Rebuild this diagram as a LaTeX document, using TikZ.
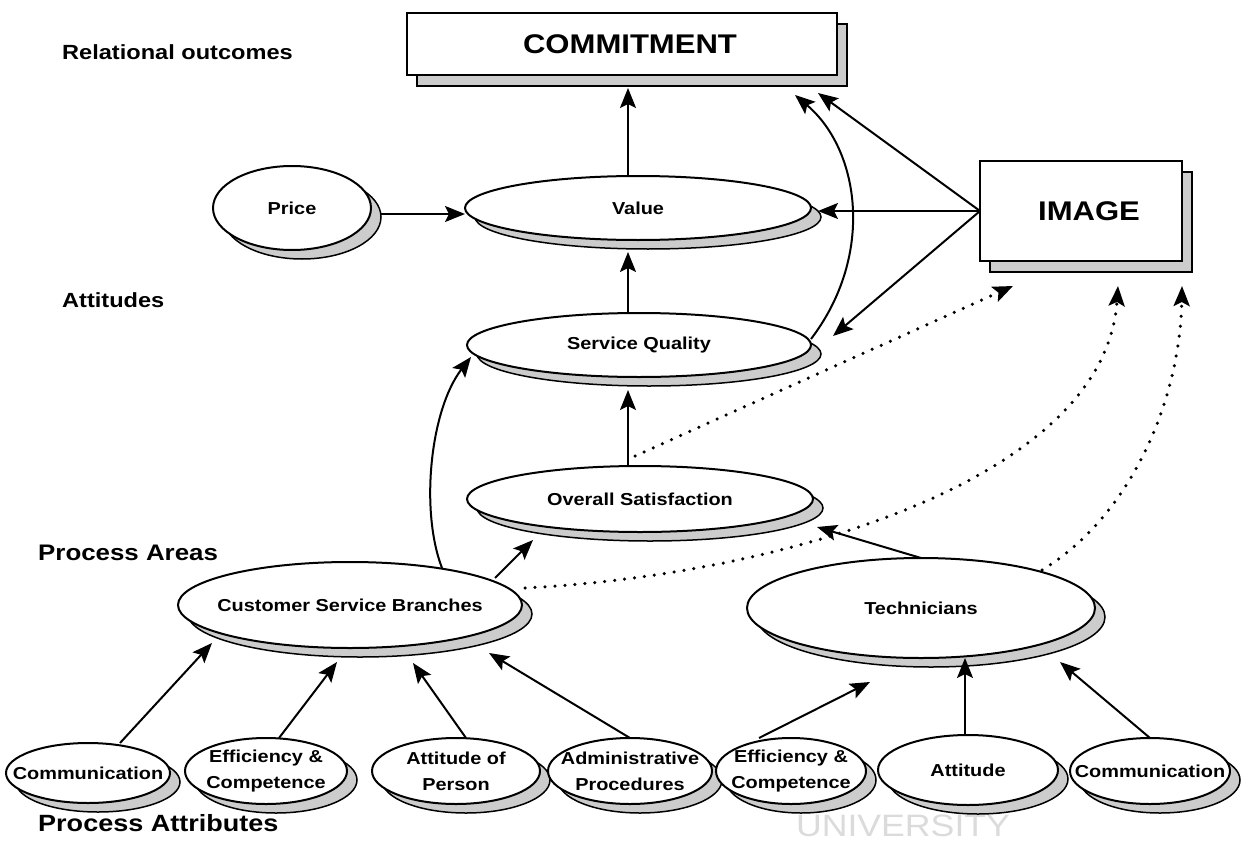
\documentclass[tikz,border=0pt]{standalone}
\usepackage{fontspec}
\setmainfont{Liberation Sans}[FakeStretch=1.15]
\setsansfont{Liberation Sans}[FakeStretch=1.15]
\usetikzlibrary{shapes.geometric,shadows,arrows.meta}
\begin{document}
\begin{tikzpicture}[x=1pt,y=1pt,
  ell/.style={ellipse, draw=black, line width=2pt, fill=white, inner sep=0pt, outer sep=0pt,
    drop shadow={shadow xshift=10pt, shadow yshift=-9pt, fill=gray!40, draw=black, line width=1.5pt, opacity=1}},
  box/.style={rectangle, draw=black, line width=1.8pt, fill=white, inner sep=0pt, outer sep=0pt,
    drop shadow={shadow xshift=10pt, shadow yshift=-11pt, fill=gray!40, draw=black, line width=1.2pt, opacity=1}},
  nt/.style={font=\bfseries\fontsize{17.3}{26}\selectfont, align=center, inner sep=0pt},
  bigt/.style={font=\bfseries\fontsize{27}{30}\selectfont, inner sep=0pt},
  lbl/.style={font=\bfseries\fontsize{22}{26}\selectfont, anchor=west, inner sep=0pt},
  arr/.style={line width=2pt, -{Stealth[length=20pt,width=16pt,inset=4pt]}},
  dot/.style={line width=3.5pt, line cap=round, dash pattern=on 0pt off 10pt, -{Stealth[length=20pt,width=16pt,inset=4pt]}}
]
\useasboundingbox (0,0) rectangle (1249,-848);
\fill[white] (0,0) rectangle (1249,-848);

% watermark
\node[font=\fontsize{31}{34}\selectfont, text=gray!28, inner sep=0pt] (wm) at (903,-826) {UNIVERSITY};

% level labels
\node[lbl, font=\bfseries\fontsize{20.5}{24}\selectfont] (lro) at (62,-52) {Relational outcomes};
\node[lbl, font=\bfseries\fontsize{20.5}{24}\selectfont] (latt) at (62,-300) {Attitudes};
\node[lbl, font=\bfseries\fontsize{22.5}{26}\selectfont] (lpa) at (38,-553) {Process Areas};
\node[lbl, font=\bfseries\fontsize{23.5}{26}\selectfont] (lpat) at (38,-823) {Process Attributes};

% boxes
\node[box, minimum width=430pt, minimum height=62pt, label={[bigt,xshift=8pt]center:COMMITMENT}] (commit) at (622,-44) {};
\node[box, minimum width=202pt, minimum height=100pt, label={[bigt,xshift=8pt]center:IMAGE}] (image) at (1081,-211) {};

% ellipses
\node[ell, minimum width=158pt, minimum height=84pt, label={[nt]center:Price}] (price) at (292,-208) {};
\node[ell, minimum width=346pt, minimum height=64pt, label={[nt]center:Value}] (value) at (638,-208) {};
\node[ell, minimum width=344pt, minimum height=64pt, label={[nt]center:Service Quality}] (sq) at (639,-345) {};
\node[ell, minimum width=346pt, minimum height=66pt, label={[nt]center:Overall Satisfaction}] (os) at (640,-499) {};
\node[ell, minimum width=344pt, minimum height=86pt, label={[nt]center:Customer Service Branches}] (csb) at (350,-605) {};
\node[ell, minimum width=348pt, minimum height=100pt, label={[nt]center:Technicians}] (tech) at (921,-608) {};

\node[ell, minimum width=164pt, minimum height=60pt, label={[nt]center:Communication}] (comm1) at (88,-773) {};
\node[ell, minimum width=162pt, minimum height=66pt, label={[nt]center:Efficiency \&\\Competence}] (eff1) at (266,-771) {};
\node[ell, minimum width=168pt, minimum height=66pt, label={[nt]center:Attitude of\\Person}] (attp) at (456,-771) {};
\node[ell, minimum width=164pt, minimum height=66pt, label={[nt]center:Administrative\\Procedures}] (admin) at (630,-771) {};
\node[ell, minimum width=150pt, minimum height=66pt, label={[nt]center:Efficiency \&\\Competence}] (eff2) at (791,-771) {};
\node[ell, minimum width=180pt, minimum height=70pt, label={[nt]center:Attitude}] (att) at (968,-770) {};
\node[ell, minimum width=160pt, minimum height=66pt, label={[nt]center:Communication}] (comm2) at (1150,-771) {};

% solid connectors
\draw[arr] ([shift={(10pt,-6pt)}]price.east) -- ([yshift=-6pt]value.west);
\draw[arr, shorten >=13pt] ([xshift=-10pt]value.north) -- ([xshift=-10pt]value.north |- commit.south);
\draw[arr] ([xshift=-11pt]sq.north) -- ([xshift=-10pt,yshift=-12pt]value.south);
\draw[arr] ([xshift=-12pt]os.north) -- ([xshift=-11pt,yshift=-13pt]sq.south);
\draw[arr] (image.west) -- ([shift={(-19pt,-18pt)}]commit.south east);
\draw[arr] (image.west) -- ([xshift=7pt,yshift=-3pt]value.east);
\draw[arr] (image.west) -- ([shift={(22pt,9pt)}]sq.east);
\draw[arr] ([yshift=6pt]sq.east) .. controls +(64pt,84pt) and +(65pt,-55pt) .. ([shift={(-42pt,-20pt)}]commit.south east);
\draw[arr] ([xshift=92pt,yshift=-6pt]csb.north) .. controls +(-22pt,57pt) and +(-41pt,-53pt) .. ([shift={(4pt,-12pt)}]sq.west);
\draw[arr] ([shift={(145pt,27pt)}]csb.center) -- ([shift={(-107pt,-41pt)}]os.center);
\draw[arr] (tech.north) -- ([shift={(177pt,-28pt)}]os.center);

\draw[arr] ([xshift=-32pt]eff2.north) -- ([shift={(-51pt,-74pt)}]tech.center);
\draw[arr] ([xshift=-3pt]att.north) -- ([xshift=-3pt]att.north |- tech.south);
\draw[arr] (comm2.north) -- ([shift={(139pt,-54pt)}]tech.center);

\draw[arr] ([xshift=32pt]comm1.north) -- ([shift={(-138pt,-38pt)}]csb.center);
\draw[arr] ([xshift=13pt]eff1.north) -- ([shift={(-13pt,-57pt)}]csb.center);
\draw[arr] ([xshift=10pt]attp.north) -- ([shift={(63pt,-58pt)}]csb.center);
\draw[arr] (admin.north) -- ([shift={(139pt,-48pt)}]csb.center);

% dotted connectors to IMAGE
\draw[dot] ([shift={(-5pt,10pt)}]os.north) -- ([shift={(33pt,-25pt)}]image.south west);
\draw[dot] ([shift={(3pt,17pt)}]csb.east) .. controls +(255pt,13pt) and +(-13pt,-195pt) .. ([shift={(37pt,-25pt)}]image.south);
\draw[dot] ([shift={(121pt,38pt)}]tech.center) .. controls +(88pt,53pt) and +(-2pt,-115pt) .. ([yshift=-25pt]image.south east);
\end{tikzpicture}
\end{document}
